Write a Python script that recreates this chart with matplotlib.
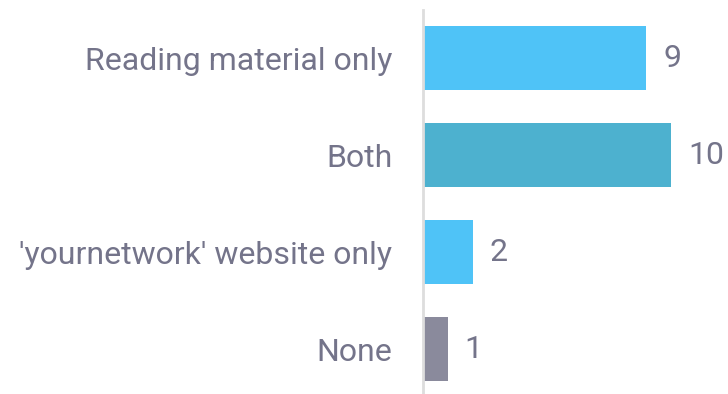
import matplotlib
matplotlib.use("Agg")
import matplotlib.pyplot as plt

categories = ["Reading material only", "Both", "'yournetwork' website only", "None"]
counts = [9, 10, 2, 1]
bar_colors = ["#4fc3f7", "#4db1cf", "#8a8a9c"]
colors = [bar_colors[0], bar_colors[1], bar_colors[0], bar_colors[2]]

TEXT = "#74748a"
plt.rcParams["font.family"] = ["Roboto", "DejaVu Sans"]

fig = plt.figure(figsize=(7.28, 3.94), dpi=100)
ax = fig.add_axes([423 / 728, 0, 305 / 728, 384 / 394])

pos = list(range(len(categories)))
ax.barh(pos, counts, height=0.66, color=colors)
ax.set_xlim(0, 305 / 24.8)
ax.set_ylim(3.459, -0.495)

for y, v in zip(pos, counts):
    ax.annotate(str(v), (v, y), xytext=(17, 0), textcoords="offset pixels",
                va="center", ha="left", fontsize=23, color=TEXT)

ax.set_yticks(pos)
ax.set_yticklabels(categories, fontsize=23, color=TEXT)
ax.tick_params(axis="y", length=0, pad=22)
ax.set_xticks([])
for side in ["top", "right", "bottom"]:
    ax.spines[side].set_visible(False)
ax.spines["left"].set_color("#dddddd")
ax.spines["left"].set_linewidth(2)

fig.savefig("out.png", dpi=100)
